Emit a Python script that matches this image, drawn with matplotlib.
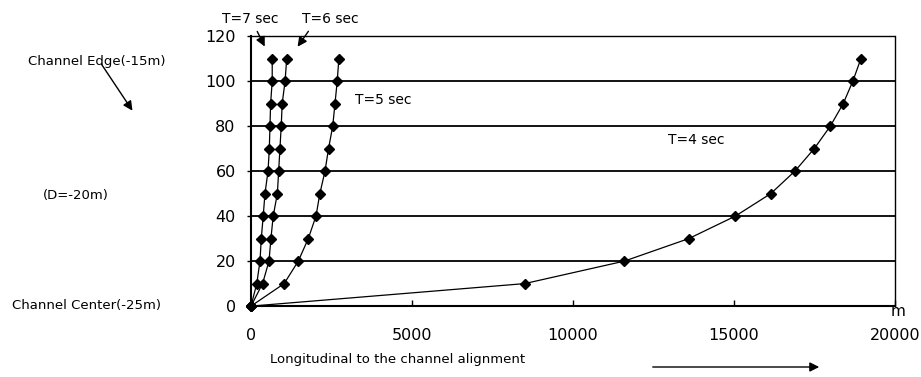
import numpy as np
import matplotlib.pyplot as plt

# depth levels across the channel (same for every wave period)
y_vals = [0, 10, 20, 30, 40, 50, 60, 70, 80, 90, 100, 110]

# longitudinal distance (m) per wave period
x_t7 = [0, 180, 280, 320, 380, 435, 530, 570, 590, 610, 660, 660]
x_t6 = [0, 360, 560, 620, 690, 820, 860, 900, 940, 970, 1060, 1110]
x_t5 = [0, 1030, 1470, 1780, 2020, 2140, 2300, 2410, 2540, 2610, 2680, 2730]
x_t4 = [0, 8500, 11600, 13600, 15050, 16150, 16900, 17500, 18000, 18400, 18700, 18950]

series = [x_t7, x_t6, x_t5, x_t4]

x_ticks = [0, 5000, 10000, 15000, 20000]
y_ticks = [0, 20, 40, 60, 80, 100, 120]

fig = plt.figure(figsize=(9.21, 3.77), dpi=100)
ax = fig.add_axes([0.2725, 0.188, 0.699, 0.7165])

for xs in series:
    ax.plot(xs, y_vals, color='black', linewidth=0.9, marker='D',
            markersize=5.5, markerfacecolor='black', markeredgecolor='black',
            clip_on=False, zorder=3)

# horizontal gridlines
for yv in y_ticks[1:-1]:
    ax.axhline(yv, color='black', linewidth=1.3, zorder=1)

ax.set_xlim(0, 20000)
ax.set_ylim(0, 120)
ax.set_xticks(x_ticks)
ax.set_yticks(y_ticks)
ax.tick_params(axis='both', labelsize=11.5, direction='in', length=4, width=1)
ax.tick_params(axis='x', pad=16)
ax.tick_params(axis='y', direction='out', length=3, pad=8)

for side in ['top', 'right']:
    ax.spines[side].set_linestyle((0, (1, 1)))
    ax.spines[side].set_linewidth(1.0)
for side in ['left', 'bottom']:
    ax.spines[side].set_linewidth(1.5)

# period labels
fig.text(250 / 921, 1 - 19 / 377, 'T=7 sec', fontsize=10, ha='center', va='center')
fig.text(330 / 921, 1 - 19 / 377, 'T=6 sec', fontsize=10, ha='center', va='center')
fig.text(355 / 921, 1 - 100 / 377, 'T=5 sec', fontsize=10, ha='left', va='center')
fig.text(668 / 921, 1 - 140 / 377, 'T=4 sec', fontsize=10, ha='left', va='center')

arrow_kw = dict(arrowstyle='-|>', color='black', lw=1.0, mutation_scale=14)
fig.patches.append(plt.matplotlib.patches.FancyArrowPatch(
    (256 / 921, 1 - 29 / 377), (266 / 921, 1 - 49 / 377),
    transform=fig.transFigure, **arrow_kw))
fig.patches.append(plt.matplotlib.patches.FancyArrowPatch(
    (310 / 921, 1 - 29 / 377), (296 / 921, 1 - 49 / 377),
    transform=fig.transFigure, **arrow_kw))

# left side annotations
fig.text(28 / 921, 1 - 62 / 377, 'Channel Edge(-15m)', fontsize=9.5, ha='left', va='center')
fig.patches.append(plt.matplotlib.patches.FancyArrowPatch(
    (100 / 921, 1 - 62 / 377), (134 / 921, 1 - 113 / 377),
    transform=fig.transFigure, **arrow_kw))
fig.text(43 / 921, 1 - 195 / 377, '(D=-20m)', fontsize=9.5, ha='left', va='center')
fig.text(12 / 921, 1 - 305 / 377, 'Channel Center(-25m)', fontsize=9.5, ha='left', va='center')

# axis unit and title
fig.text(898 / 921, 1 - 311 / 377, 'm', fontsize=11, ha='center', va='center')
fig.text(270 / 921, 1 - 360 / 377, 'Longitudinal to the channel alignment',
         fontsize=9.5, ha='left', va='center')
fig.patches.append(plt.matplotlib.patches.FancyArrowPatch(
    (650 / 921, 1 - 367 / 377), (822 / 921, 1 - 367 / 377),
    transform=fig.transFigure, **arrow_kw))

fig.savefig('out.png', dpi=100, facecolor='white')
